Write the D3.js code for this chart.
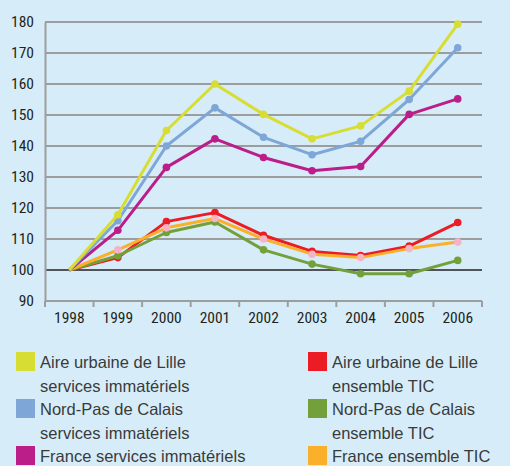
<!DOCTYPE html>
<html>
<head>
<meta charset="utf-8">
<script src="https://cdn.jsdelivr.net/npm/d3@7"></script>
<style>
  body { margin: 0; background: #d6edf9; }
  svg { display: block; }
  .tick text { font-family: "Liberation Sans Narrow", "Roboto Condensed", "DejaVu Sans Condensed", sans-serif; font-size: 15.5px; fill: #231f20; }
  .legend text { font-family: "Liberation Sans", "Helvetica", sans-serif; font-size: 16.5px; fill: #3a3a3a; }
</style>
</head>
<body>
<div id="chart"></div>
<script>
// categories and values
const years = ["1998", "1999", "2000", "2001", "2002", "2003", "2004", "2005", "2006"];
const yTicks = [90, 100, 110, 120, 130, 140, 150, 160, 170, 180];

const lilleServ = [100, 117.8, 145, 160, 150.2, 142.3, 146.5, 157.7, 179.3];
const npcServ   = [100, 115.9, 140, 152.3, 142.8, 137.2, 141.5, 155, 171.7];
const franceServ= [100, 112.8, 133.1, 142.3, 136.3, 132, 133.4, 150.2, 155.2];
const lilleTic  = [100, 104, 115.6, 118.5, 111.2, 106, 104.7, 107.7, 115.3];
const npcTic    = [100, 104.6, 112.1, 115.5, 106.5, 101.9, 98.8, 98.8, 103.1];
const franceTic = [100, 106.5, 113.6, 116.6, 110, 105.1, 104, 106.9, 109];

const series = [
  { name: ["Aire urbaine de Lille", "services immatériels"], values: lilleServ, color: "#d7dd33", dot: "#d7dd33" },
  { name: ["Nord-Pas de Calais", "services immatériels"], values: npcServ, color: "#7ea7d8", dot: "#7ea7d8" },
  { name: ["France services immatériels"], values: franceServ, color: "#bb1e88", dot: "#bb1e88" },
  { name: ["Aire urbaine de Lille", "ensemble TIC"], values: lilleTic, color: "#ec1c24", dot: "#ec1c24" },
  { name: ["Nord-Pas de Calais", "ensemble TIC"], values: npcTic, color: "#74a03c", dot: "#74a03c" },
  { name: ["France ensemble TIC"], values: franceTic, color: "#fbb02b", dot: "#f7b3c6" }
];

const width = 510, height = 466;
const margin = { top: 22, left: 45, right: 28, bottom: 165 };

const svg = d3.select("#chart").append("svg")
  .attr("width", width)
  .attr("height", height);

svg.append("rect").attr("width", width).attr("height", height).attr("fill", "#d6edf9");

const x = d3.scaleBand()
  .domain(years)
  .range([margin.left, width - margin.right]);

const y = d3.scaleLinear()
  .domain([90, 180])
  .range([height - margin.bottom, margin.top]);

// gridlines
svg.append("g")
  .selectAll("line")
  .data(yTicks.filter(d => d !== 90))
  .enter().append("line")
  .attr("x1", margin.left)
  .attr("x2", width - margin.right)
  .attr("y1", d => y(d))
  .attr("y2", d => y(d))
  .attr("stroke", d => d === 100 ? "#231f20" : "#9d9d9d")
  .attr("stroke-width", d => d === 100 ? 1.5 : 2);

// y axis
const yAxis = svg.append("g")
  .attr("transform", `translate(${margin.left},0)`)
  .call(d3.axisLeft(y).tickValues(yTicks).tickSize(0).tickPadding(11));
yAxis.select(".domain").attr("stroke", "#9d9d9d").attr("stroke-width", 2);

// x axis
const xAxis = svg.append("g")
  .attr("transform", `translate(0,${y(90)})`)
  .call(d3.axisBottom(x).tickSize(0).tickPadding(11));
xAxis.select(".domain").remove();
xAxis.append("line")
  .attr("x1", margin.left).attr("x2", width - margin.right)
  .attr("stroke", "#9d9d9d").attr("stroke-width", 2);
xAxis.selectAll(".sep")
  .data(years.concat(["end"]))
  .enter().append("line")
  .attr("x1", (d, i) => margin.left + i * x.step())
  .attr("x2", (d, i) => margin.left + i * x.step())
  .attr("y1", 0).attr("y2", 6)
  .attr("stroke", "#9d9d9d").attr("stroke-width", 2);

// lines
const line = d3.line()
  .x((d, i) => x(years[i]) + x.bandwidth() / 2)
  .y(d => y(d));

const drawOrder = [3, 4, 5, 2, 1, 0];
drawOrder.forEach(k => {
  const s = series[k];
  const g = svg.append("g");
  g.append("path")
    .datum(s.values)
    .attr("d", line)
    .attr("fill", "none")
    .attr("stroke", s.color)
    .attr("stroke-width", 3)
    .attr("stroke-linejoin", "round");
  g.selectAll("circle")
    .data(s.values.slice(1))
    .enter().append("circle")
    .attr("cx", (d, i) => x(years[i + 1]) + x.bandwidth() / 2)
    .attr("cy", d => y(d))
    .attr("r", 3.8)
    .attr("fill", s.dot);
});

// legend
const legend = svg.append("g").attr("class", "legend");
const rowY = [352, 399, 446];
series.forEach((s, i) => {
  const col = Math.floor(i / 3);
  const row = i % 3;
  const gx = col === 0 ? 16 : 308;
  const gy = rowY[row];
  const g = legend.append("g").attr("transform", `translate(${gx},${gy})`);
  g.append("rect").attr("width", 19).attr("height", 19).attr("fill", s.color);
  s.name.forEach((t, j) => {
    g.append("text")
      .attr("x", 24)
      .attr("y", 16 + j * 23.5)
      .text(t);
  });
});
</script>
</body>
</html>
